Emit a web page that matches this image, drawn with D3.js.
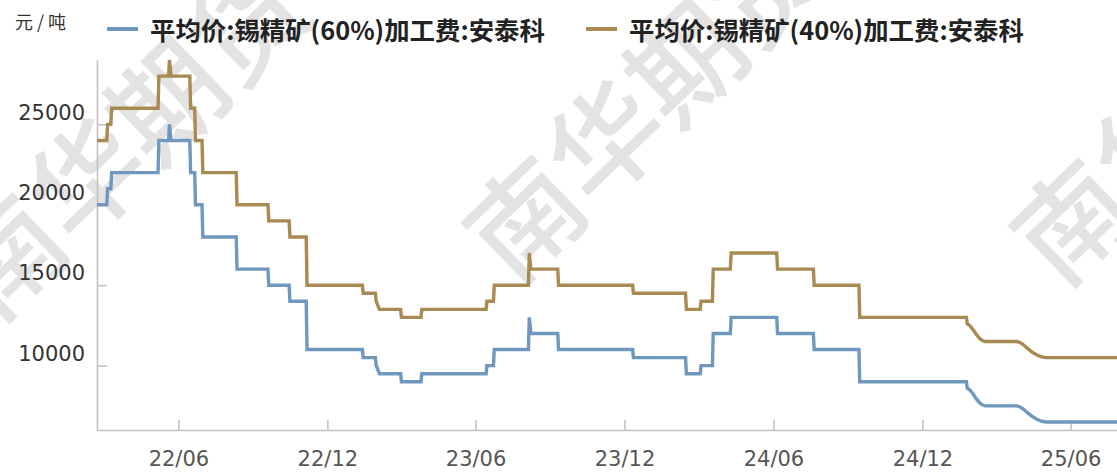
<!DOCTYPE html>
<html>
<head>
<meta charset="utf-8">
<script src="https://cdn.jsdelivr.net/npm/d3@7"></script>
<style>
  body { margin: 0; background: #fff; }
  svg { display: block; }
</style>
</head>
<body>
<div id="chart"></div>
<script>
// change dates (a level holds until the next date)
var changeDates = [
  "2022-02-21","2022-03-06","2022-03-11","2022-05-08","2022-05-21","2022-05-23",
  "2022-06-16","2022-06-22","2022-07-01","2022-08-12","2022-09-20","2022-10-16",
  "2022-11-06","2023-01-14","2023-01-30","2023-02-03","2023-03-02","2023-03-27",
  "2023-06-15","2023-06-24","2023-08-06","2023-08-08","2023-09-11","2023-12-12",
  "2024-02-15","2024-03-04","2024-03-19","2024-04-10","2024-06-06","2024-07-21",
  "2024-09-15","2025-01-25","2025-01-28","2025-02-01","2025-02-05","2025-02-09",
  "2025-02-13","2025-02-16","2025-03-27","2025-03-31","2025-04-04","2025-04-08",
  "2025-04-12","2025-04-16","2025-04-20","2025-04-24","2025-04-28","2025-05-02",
  "2025-07-28"
];

// 平均价:锡精矿(60%)加工费:安泰科
var fee60 = [
  20000,21000,22000,24000,25000,24000,
  22000,20000,18000,16000,15000,14000,
  11000,10500,10000,9500,9000,9500,
  10000,11000,13000,12000,11000,10500,
  9500,10000,12000,13000,12000,11000,
  9000,8600,8500,8250,7950,7700,
  7550,7500,7500,7430,7300,7120,
  6950,6800,6680,6590,6530,6500,
  6500
];

// 平均价:锡精矿(40%)加工费:安泰科
var fee40 = [
  24000,25000,26000,28000,29000,28000,
  26000,24000,22000,20000,19000,18000,
  15000,14500,14000,13500,13000,13500,
  14000,15000,17000,16000,15000,14500,
  13500,14000,16000,17000,16000,15000,
  13000,12600,12500,12250,11950,11700,
  11550,11500,11500,11430,11300,11120,
  10950,10800,10680,10590,10530,10500,
  10500
];

var seriesNames = ["平均价:锡精矿(60%)加工费:安泰科", "平均价:锡精矿(40%)加工费:安泰科"];
var seriesColors = ["#7097be", "#a88b53"];
var yTicks = [10000, 15000, 20000, 25000];
var xTicks = ["2022-06-01","2022-12-01","2023-06-01","2023-12-01","2024-06-01","2024-12-01","2025-06-01"];
var unitLabel = "元/吨";
var watermarkText = "南华期货";

var W = 1117, H = 473;
var parse = d3.timeParse("%Y-%m-%d");
var dates = changeDates.map(parse);

var x = d3.scaleTime()
  .domain([dates[0], dates[dates.length - 1]])
  .range([97, 1117]);
var y = d3.scaleLinear()
  .domain([6000, 29000])
  .range([430, 60]);

var svg = d3.select("#chart").append("svg")
  .attr("width", W)
  .attr("height", H);

// watermark (cut by the edges, as in the source)
var wm = svg.append("g").attr("class", "watermark");
[[122, 135], [641, 97], [1188, 100]].forEach(function (c) {
  wm.append("text")
    .attr("transform", "translate(" + c[0] + "," + c[1] + ") rotate(-44)")
    .attr("text-anchor", "middle")
    .attr("dominant-baseline", "central")
    .style("font-family", "'Noto Sans CJK SC'")
    .style("font-weight", "500")
    .style("font-size", "112px")
    .style("fill", "#e3e3e3")
    .text(watermarkText);
});

// turn level changes into drawable points: jumps are vertical,
// closely spaced points (gradual moves) are joined directly
function levelPoints(vals) {
  var pts = [];
  dates.forEach(function (d, i) {
    if (i > 0 && (d - dates[i - 1]) / 864e5 > 4) {
      pts.push([d3.timeDay.offset(d, -1), vals[i - 1]]);
    }
    pts.push([d, vals[i]]);
  });
  return pts;
}

var line = d3.line()
  .x(function (d) { return x(d[0]); })
  .y(function (d) { return y(d[1]); });

// axes
var axisColor = "#c2c2c2";

var gx = svg.append("g")
  .attr("transform", "translate(0,430)")
  .call(d3.axisBottom(x)
    .tickValues(xTicks.map(parse))
    .tickFormat(d3.timeFormat("%y/%m"))
    .tickSizeInner(-10)
    .tickSizeOuter(0));
gx.selectAll("text")
  .attr("y", 36)
  .attr("dy", null)
  .style("font-family", "'DejaVu Sans'")
  .style("font-size", "21px")
  .style("fill", "#555");

var gy = svg.append("g")
  .attr("transform", "translate(97,0)")
  .call(d3.axisLeft(y)
    .tickValues(yTicks)
    .tickFormat(d3.format("d"))
    .tickSizeInner(-10)
    .tickSizeOuter(0)
    .tickPadding(12));
gy.selectAll("text")
  .attr("y", -12)
  .style("font-family", "'DejaVu Sans'")
  .style("font-size", "21px")
  .style("fill", "#333");

svg.selectAll(".domain, .tick line")
  .attr("stroke", axisColor)
  .attr("stroke-width", 1.6);

// lines
[fee60, fee40].forEach(function (vals, i) {
  svg.append("path")
    .datum(levelPoints(vals))
    .attr("fill", "none")
    .attr("stroke", seriesColors[i])
    .attr("stroke-width", 3.4)
    .attr("d", line);
});

// unit
svg.append("text")
  .attr("x", 15)
  .attr("y", 29)
  .style("font-family", "'Noto Sans CJK SC'")
  .style("font-size", "18px")
  .style("letter-spacing", "4px")
  .style("fill", "#333")
  .text(unitLabel);

// legend
var legendX = [107, 586];
seriesNames.forEach(function (name, i) {
  var g = svg.append("g").attr("transform", "translate(" + legendX[i] + ",29)");
  g.append("line")
    .attr("x1", 0).attr("x2", 31)
    .attr("y1", 0).attr("y2", 0)
    .attr("stroke", seriesColors[i])
    .attr("stroke-width", 4);
  g.append("text")
    .attr("x", 43)
    .attr("y", 0)
    .attr("dominant-baseline", "central")
    .style("font-family", "'Noto Sans CJK SC'")
    .style("font-weight", "bold")
    .style("font-size", "25.4px")
    .style("fill", "#222")
    .text(name);
});
</script>
</body>
</html>
